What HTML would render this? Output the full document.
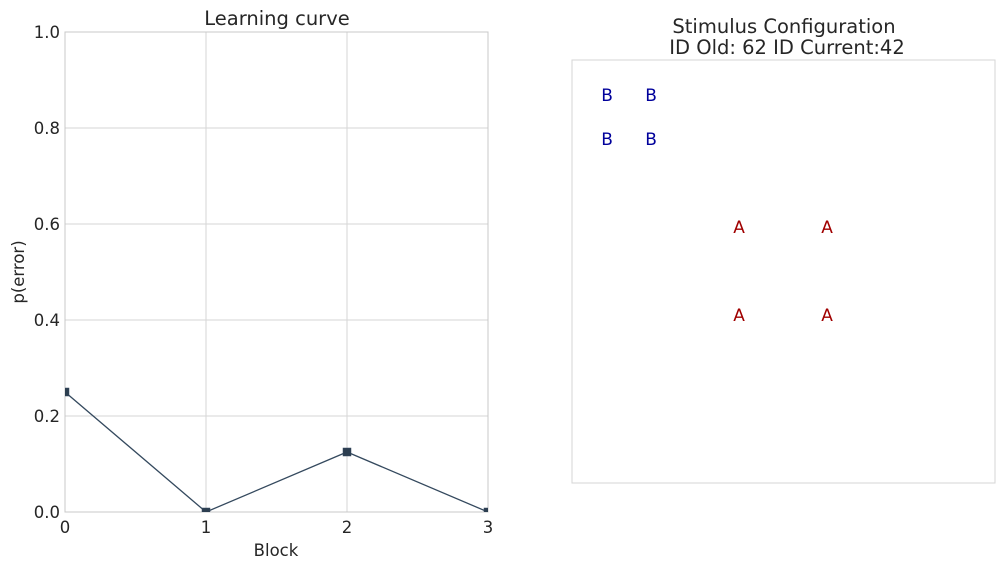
<!DOCTYPE html>
<html><head><meta charset="utf-8"><style>
html,body{margin:0;padding:0;background:#fff;}
svg{display:block;font-family:"DejaVu Sans","Liberation Sans",sans-serif;}
</style></head><body>
<svg id="c" width="1004" height="570" viewBox="0 0 1004 570">
<defs><clipPath id="clipL"><rect x="65" y="32" width="423" height="480"/></clipPath></defs>
<g id="left"></g>
<g id="right"></g>
</svg>
<script>
const blocks = [0, 1, 2, 3];
const perror = [0.25, 0.0, 0.125, 0.0];
const yTicks = [0.0, 0.2, 0.4, 0.6, 0.8, 1.0];
const xTicks = [0, 1, 2, 3];
const stimLabels = ["B", "B", "B", "B", "A", "A", "A", "A"];
const stimX = [0.83, 1.87, 0.83, 1.87, 3.95, 6.03, 3.95, 6.03];
const stimY = [9.17, 9.17, 8.13, 8.13, 6.05, 6.05, 3.97, 3.97];

const NS = "http://www.w3.org/2000/svg";
function mk(parent, tag, attrs, text) {
  const e = document.createElementNS(NS, tag);
  for (const k in attrs) e.setAttribute(k, attrs[k]);
  if (text !== undefined) e.textContent = text;
  parent.appendChild(e);
  return e;
}
const L = document.getElementById("left");
const R = document.getElementById("right");
const x0 = 65, x1 = 488, y0 = 512, y1 = 32;
const xs = v => x0 + (v - 0) / 3 * (x1 - x0);
const ys = v => y0 - v * (y0 - y1);

yTicks.forEach(t => {
  const g = mk(L, "line", {x1: x0, x2: x1, y1: ys(t), y2: ys(t), stroke: "#d5d5d5", "stroke-width": 1});
  
  
  const lab = mk(L, "text", {x: x0 - 5, y: ys(t) + 6, "text-anchor": "end", "font-size": 16.5, fill: "#262626"}, t.toFixed(1));
  
  
});
xTicks.forEach(t => {
  const g = mk(L, "line", {x1: xs(t), x2: xs(t), y1: y0, y2: y1, stroke: "#d5d5d5", "stroke-width": 1});
  
  
  const lab = mk(L, "text", {x: xs(t), y: y0 + 21, "text-anchor": "middle", "font-size": 16.5, fill: "#262626"}, String(t));
  
  
});
const frame = mk(L, "rect", {x: x0, y: y1, width: x1 - x0, height: y0 - y1, fill: "none", stroke: "#c8c8c8", "stroke-width": 1});



const dg = mk(L, "g", {"clip-path": "url(#clipL)"});


const pts = blocks.map((b, i) => xs(b) + "," + ys(perror[i])).join(" ");
const pl = mk(dg, "polyline", {points: pts, fill: "none", stroke: "#34495e", "stroke-width": 1.3});


blocks.forEach((b, i) => {
  const m = mk(dg, "rect", {x: xs(b) - 4, y: ys(perror[i]) - 4, width: 8, height: 8, fill: "#2c3e50", stroke: "#34495e", "stroke-width": 0.5});
  
  
});

const t1 = mk(L, "text", {x: 277, y: 25, "text-anchor": "middle", "font-size": 19.5, fill: "#262626"}, "Learning curve");


const xl = mk(L, "text", {x: 276, y: 556, "text-anchor": "middle", "font-size": 16.5, fill: "#262626"}, "Block");


const yl = mk(L, "text", {x: 24, y: 272, "text-anchor": "middle", "font-size": 16.5, fill: "#262626", transform: "rotate(-90 24 272)"}, "p(error)");



const rx0 = 572, rx1 = 995, ry0 = 483, ry1 = 60;
const rxs = v => rx0 + v / 10 * (rx1 - rx0);
const rys = v => ry0 - v / 10 * (ry0 - ry1);
const box = mk(R, "rect", {x: rx0, y: ry1, width: rx1 - rx0, height: ry0 - ry1, fill: "none", stroke: "#d5d5d5", "stroke-width": 1});


const rt1 = mk(R, "text", {x: 784, y: 33, "text-anchor": "middle", "font-size": 19.5, fill: "#262626"}, "Stimulus Configuration");


const rt2 = mk(R, "text", {x: 787, y: 54, "text-anchor": "middle", "font-size": 19.5, fill: "#262626"}, "ID Old: 62 ID Current:42");


stimLabels.forEach((s, i) => {
  const e = mk(R, "text", {x: rxs(stimX[i]), y: rys(stimY[i]) + 6, "text-anchor": "middle", "font-size": 17, fill: s === "A" ? "#a00000" : "#00009b"}, s);
  
  
});
</script>
</body></html>
